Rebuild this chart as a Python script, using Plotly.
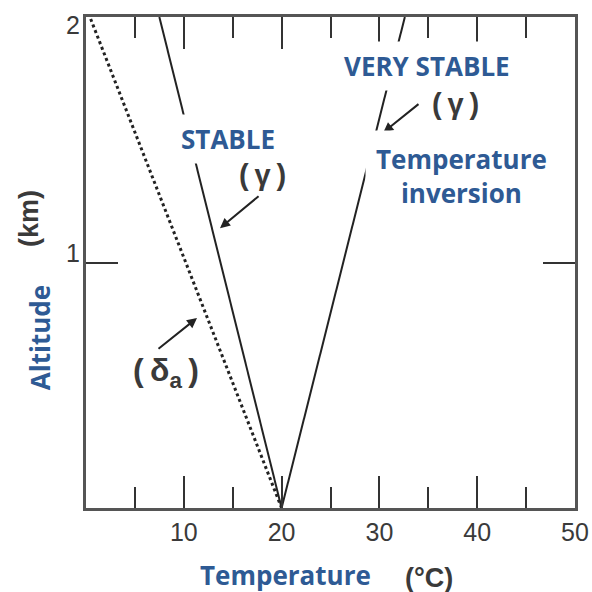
import plotly.graph_objects as go

# Data
altitude_km = [0, 2]
temp_dry_adiabatic = [20, 0.4]   # (δa) dotted
temp_stable = [20, 7.5]          # STABLE (γ)
temp_inversion = [20, 32.6]      # VERY STABLE (γ), temperature inversion

x_tick_vals = [10, 20, 30, 40, 50]
x_tick_text = ["10", "20", "30", "40", "50"]
x_minor_vals = [5, 15, 25, 35, 45]
y_tick_vals = [1, 2]
y_tick_text = ["1", "2"]

BLUE = "#2E5A94"
GRAY = "#3a3a3a"
AXIS = "#555555"

fig = go.Figure()
fig.add_trace(go.Scatter(x=temp_dry_adiabatic, y=altitude_km, mode="lines",
                         line=dict(color="#222", width=3, dash="dot"),
                         hoverinfo="skip", showlegend=False))
fig.add_trace(go.Scatter(x=temp_stable, y=altitude_km, mode="lines",
                         line=dict(color="#222", width=2),
                         hoverinfo="skip", showlegend=False))
fig.add_trace(go.Scatter(x=temp_inversion, y=altitude_km, mode="lines",
                         line=dict(color="#222", width=2),
                         hoverinfo="skip", showlegend=False))

blue_font = dict(family="Open Sans", size=26, color=BLUE, weight="bold")
gray_font = dict(family="Liberation Sans", size=29, color=GRAY, weight="bold")
gray_big = dict(family="Liberation Sans", size=32, color=GRAY, weight="bold")
gray_small = dict(family="Liberation Sans", size=27, color=GRAY, weight="bold")
tick_font = dict(family="Liberation Sans", size=25, color=GRAY)
HS = "\u2009"

def label(x, y, text, font, ref="x", **kw):
    d = dict(x=x, y=y, xref=ref if ref == "paper" else "x",
             yref=ref if ref == "paper" else "y", text=text, showarrow=False,
             font=font, xanchor="center", yanchor="middle")
    d.update(kw)
    return d

def arrow(x, y, ax, ay):
    return dict(x=x, y=y, ax=ax, ay=ay, xref="x", yref="y", axref="x", ayref="y",
                text="", showarrow=True, arrowhead=2, arrowsize=1, arrowwidth=2,
                arrowcolor="#222")

annotations = [
    arrow(13.7, 1.14, 17.8, 1.275),
    arrow(30.4, 1.53, 34.15, 1.65),
    arrow(11.35, 0.774, 7.26, 0.644),
    label(14.5, 1.503, "STABLE", blue_font, bgcolor="white", borderpad=6),
    label(18.0, 1.356, f"({HS}γ{HS})", gray_font),
    label(34.9, 1.80, "VERY STABLE", blue_font, bgcolor="white", borderpad=6),
    label(37.8, 1.646, f"({HS}γ{HS})", gray_font),
    label(38.4, 1.352, "Temperature<br>inversion", blue_font, bgcolor="white", borderpad=10),
    label(8.2, 0.55, f"({HS}δ<sub>a</sub>{HS})", gray_big),
    label(-0.094, 0.346, "Altitude", blue_font, ref="paper", textangle=-90),
    label(-0.115, 0.59, "(km)", gray_small, ref="paper", textangle=-90),
    label(0.407, -0.136, "Temperature", blue_font, ref="paper"),
    label(0.701, -0.142, "(°C)", gray_small, ref="paper"),
]
# y tick labels (top label sits just below the top edge, as in the original)
for v, t in zip(y_tick_vals, y_tick_text):
    annotations.append(dict(x=0, y=v, xref="paper", yref="y", text=t, showarrow=False,
                            font=tick_font, xanchor="right", xshift=-4,
                            yanchor="top" if v == max(y_tick_vals) else "middle",
                            yshift=8 if v == max(y_tick_vals) else 10))

fig.update_layout(
    width=592, height=592,
    margin=dict(l=86, r=17, t=17, b=84),
    paper_bgcolor="white", plot_bgcolor="white",
    annotations=annotations,
    xaxis=dict(range=[0, 50], tickvals=x_tick_vals, ticktext=x_tick_text,
               ticks="inside", ticklen=32, tickwidth=2, tickcolor="#333",
               minor=dict(ticks="inside", ticklen=21, tickwidth=2, tickcolor="#333",
                          tickvals=x_minor_vals),
               showline=True, linecolor=AXIS, linewidth=2.5, mirror="ticks",
               showgrid=False, zeroline=False, automargin=False,
               ticklabeloverflow="allow", tickfont=tick_font),
    yaxis=dict(range=[0, 2], tickvals=y_tick_vals, ticktext=y_tick_text,
               ticks="inside", ticklen=32, tickwidth=2, tickcolor="#333",
               showline=True, linecolor=AXIS, linewidth=2.5, mirror="ticks",
               showgrid=False, zeroline=False, automargin=False,
               showticklabels=False),
)

fig.write_html("out.html", config={"displayModeBar": False},
               post_script="document.body.style.margin='0';document.body.style.overflow='hidden';")
